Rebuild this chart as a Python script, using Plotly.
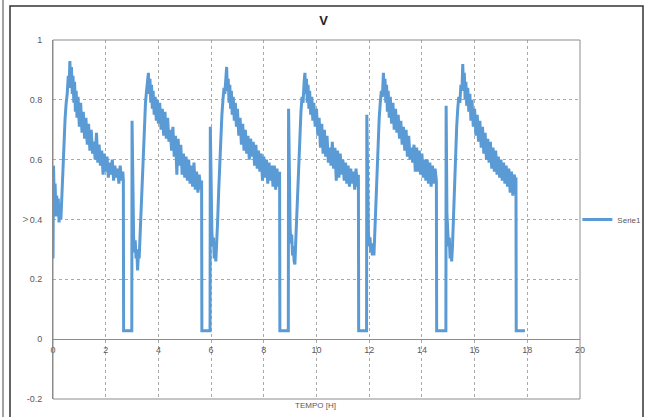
import plotly.graph_objects as go

# ---- data ----
t1 = [0.00, 0.02, 0.05, 0.08, 0.11, 0.14, 0.17, 0.20, 0.23, 0.26, 0.30, 0.34, 0.38, 0.42, 0.46, 0.50, 0.54, 0.58,
      0.61, 0.64, 0.67, 0.70, 0.73, 0.76, 0.79, 0.82, 0.85, 0.88, 0.91, 0.95,
      1.00, 1.05, 1.10, 1.15, 1.20, 1.25, 1.30, 1.35, 1.40, 1.45, 1.50, 1.55, 1.60, 1.65, 1.70, 1.75, 1.80, 1.85,
      1.90, 1.95, 2.00, 2.05, 2.10, 2.15, 2.20, 2.25, 2.30, 2.35, 2.40, 2.45, 2.50, 2.55, 2.60, 2.65,
      2.67, 2.68, 2.99]
v1 = [0.27, 0.58, 0.45, 0.52, 0.41, 0.48, 0.42, 0.47, 0.39, 0.45, 0.40, 0.50, 0.60, 0.68, 0.74, 0.79, 0.82, 0.88,
      0.84, 0.93, 0.86, 0.91, 0.82, 0.88, 0.79, 0.86, 0.76, 0.83, 0.74, 0.81,
      0.71, 0.79, 0.69, 0.76, 0.67, 0.74, 0.65, 0.72, 0.63, 0.70, 0.62, 0.66, 0.60, 0.69, 0.59, 0.65, 0.58, 0.63,
      0.55, 0.62, 0.56, 0.61, 0.54, 0.59, 0.55, 0.60, 0.53, 0.58, 0.54, 0.57, 0.52, 0.58, 0.53, 0.56,
      0.53, 0.028, 0.028]

t2 = [3.00, 3.03, 3.06, 3.09, 3.12, 3.15, 3.18, 3.21, 3.24, 3.27, 3.31, 3.35, 3.39, 3.43, 3.47, 3.51, 3.55, 3.58,
      3.62, 3.65, 3.68, 3.71, 3.74, 3.77, 3.80, 3.84, 3.88, 3.92, 3.96, 4.00,
      4.05, 4.10, 4.15, 4.20, 4.25, 4.30, 4.35, 4.40, 4.45, 4.50, 4.55, 4.60, 4.65, 4.70, 4.75, 4.80,
      4.85, 4.90, 4.95, 5.00, 5.05, 5.10, 5.15, 5.20, 5.25, 5.30, 5.35, 5.40, 5.45, 5.50, 5.55, 5.60,
      5.64, 5.65, 5.96]
v2 = [0.73, 0.41, 0.34, 0.29, 0.33, 0.27, 0.30, 0.23, 0.28, 0.27, 0.36, 0.47, 0.58, 0.67, 0.74, 0.79, 0.83, 0.86,
      0.89, 0.82, 0.87, 0.79, 0.85, 0.77, 0.83, 0.75, 0.81, 0.73, 0.80, 0.72,
      0.79, 0.70, 0.77, 0.68, 0.76, 0.67, 0.74, 0.66, 0.70, 0.63, 0.71, 0.61, 0.68, 0.55, 0.67, 0.58,
      0.65, 0.55, 0.62, 0.54, 0.61, 0.53, 0.60, 0.52, 0.58, 0.51, 0.59, 0.50, 0.56, 0.49, 0.55, 0.50,
      0.53, 0.028, 0.028]

t3 = [5.97, 6.00, 6.03, 6.06, 6.09, 6.12, 6.15, 6.18, 6.21, 6.25, 6.29, 6.33, 6.37, 6.41, 6.45, 6.49, 6.52, 6.56,
      6.59, 6.62, 6.65, 6.68, 6.71, 6.74, 6.77, 6.80, 6.84, 6.88, 6.92, 6.96, 7.00,
      7.05, 7.10, 7.15, 7.20, 7.25, 7.30, 7.35, 7.40, 7.45, 7.50, 7.55, 7.60, 7.65, 7.70, 7.75, 7.80,
      7.85, 7.90, 7.95, 8.00, 8.05, 8.10, 8.15, 8.20, 8.25, 8.30, 8.35, 8.40, 8.45, 8.50, 8.55, 8.60,
      8.61, 8.93]
v3 = [0.71, 0.40, 0.36, 0.31, 0.34, 0.27, 0.30, 0.26, 0.31, 0.40, 0.50, 0.60, 0.68, 0.75, 0.80, 0.84, 0.82, 0.88,
      0.91, 0.83, 0.87, 0.79, 0.85, 0.77, 0.83, 0.75, 0.81, 0.73, 0.79, 0.71, 0.77,
      0.68, 0.74, 0.65, 0.72, 0.63, 0.70, 0.62, 0.68, 0.60, 0.67, 0.61, 0.66, 0.58, 0.65, 0.57, 0.63,
      0.56, 0.62, 0.53, 0.61, 0.54, 0.60, 0.52, 0.59, 0.53, 0.58, 0.51, 0.58, 0.50, 0.57, 0.51, 0.56,
      0.028, 0.028]

t4 = [8.94, 8.97, 9.00, 9.03, 9.06, 9.09, 9.12, 9.15, 9.18, 9.21, 9.25, 9.29, 9.33, 9.37, 9.41, 9.45, 9.49, 9.53,
      9.56, 9.59, 9.62, 9.65, 9.68, 9.71, 9.74, 9.78, 9.82, 9.86, 9.90, 9.95, 10.00,
      10.05, 10.10, 10.15, 10.20, 10.25, 10.30, 10.35, 10.40, 10.45, 10.50, 10.55, 10.60, 10.65, 10.70, 10.75,
      10.80, 10.85, 10.90, 10.95, 11.00, 11.05, 11.10, 11.15, 11.20, 11.25, 11.30, 11.35, 11.40, 11.45, 11.50,
      11.55, 11.59, 11.60, 11.90]
v4 = [0.77, 0.42, 0.37, 0.32, 0.35, 0.28, 0.31, 0.26, 0.25, 0.32, 0.42, 0.52, 0.62, 0.70, 0.76, 0.81, 0.79, 0.86,
      0.89, 0.82, 0.87, 0.79, 0.85, 0.77, 0.83, 0.75, 0.81, 0.73, 0.79, 0.71, 0.77,
      0.68, 0.74, 0.64, 0.72, 0.62, 0.70, 0.61, 0.68, 0.59, 0.64, 0.58, 0.66, 0.57, 0.64, 0.53,
      0.63, 0.54, 0.62, 0.55, 0.60, 0.53, 0.59, 0.52, 0.58, 0.51, 0.57, 0.52, 0.56, 0.50, 0.57,
      0.51, 0.55, 0.028, 0.028]

t5 = [11.91, 11.94, 11.97, 12.00, 12.03, 12.06, 12.09, 12.12, 12.15, 12.18, 12.22, 12.26, 12.30, 12.34, 12.38,
      12.42, 12.46, 12.50, 12.54, 12.57, 12.60, 12.63, 12.66, 12.69, 12.72, 12.76, 12.80, 12.85, 12.90, 12.95, 13.00,
      13.05, 13.10, 13.15, 13.20, 13.25, 13.30, 13.35, 13.40, 13.45, 13.50, 13.55, 13.60, 13.65, 13.70, 13.75,
      13.80, 13.85, 13.90, 13.95, 14.00, 14.05, 14.10, 14.15, 14.20, 14.25, 14.30, 14.35, 14.40, 14.45, 14.50,
      14.55, 14.56, 14.91]
v5 = [0.75, 0.40, 0.36, 0.31, 0.34, 0.29, 0.32, 0.28, 0.30, 0.28, 0.38, 0.50, 0.60, 0.68, 0.74,
      0.79, 0.83, 0.81, 0.89, 0.82, 0.87, 0.79, 0.85, 0.76, 0.83, 0.74, 0.81, 0.72, 0.79, 0.70, 0.77,
      0.69, 0.75, 0.67, 0.73, 0.65, 0.71, 0.63, 0.70, 0.61, 0.68, 0.60, 0.64, 0.59, 0.65, 0.56,
      0.64, 0.56, 0.63, 0.55, 0.62, 0.54, 0.60, 0.53, 0.60, 0.52, 0.59, 0.51, 0.58, 0.52, 0.57,
      0.53, 0.028, 0.028]

t6 = [14.92, 14.95, 14.98, 15.01, 15.04, 15.07, 15.10, 15.13, 15.16, 15.20, 15.24, 15.28, 15.32, 15.36, 15.40,
      15.44, 15.48, 15.52, 15.55, 15.58, 15.61, 15.64, 15.67, 15.70, 15.74, 15.78, 15.82, 15.86, 15.90, 15.95, 16.00,
      16.05, 16.10, 16.15, 16.20, 16.25, 16.30, 16.35, 16.40, 16.45, 16.50, 16.55, 16.60, 16.65, 16.70, 16.75,
      16.80, 16.85, 16.90, 16.95, 17.00, 17.05, 17.10, 17.15, 17.20, 17.25, 17.30, 17.35, 17.40, 17.45, 17.50,
      17.55, 17.57, 17.58, 17.91]
v6 = [0.78, 0.42, 0.36, 0.31, 0.34, 0.27, 0.30, 0.26, 0.31, 0.42, 0.53, 0.63, 0.71, 0.77, 0.81,
      0.79, 0.85, 0.83, 0.92, 0.84, 0.89, 0.80, 0.86, 0.78, 0.84, 0.76, 0.82, 0.73, 0.80, 0.71, 0.77,
      0.68, 0.75, 0.66, 0.73, 0.64, 0.71, 0.62, 0.69, 0.60, 0.67, 0.59, 0.66, 0.57, 0.64, 0.56,
      0.63, 0.55, 0.61, 0.54, 0.60, 0.53, 0.59, 0.52, 0.58, 0.51, 0.57, 0.49, 0.56, 0.48, 0.55,
      0.53, 0.54, 0.028, 0.028]

x_ticks = [0, 2, 4, 6, 8, 10, 12, 14, 16, 18, 20]
x_ticktext = ["0", "2", "4", "6", "8", "10", "12", "14", "16", "18", "20"]
y_ticks = [-0.2, 0, 0.2, 0.4, 0.6, 0.8, 1.0]
y_ticktext = ["-0.2", "0", "0.2", "0.4", "0.6", "0.8", "1"]

series_name = "Serie1"
chart_title = "V"
x_title = "TEMPO [H]"
y_title = "V"

t_all = t1 + t2 + t3 + t4 + t5 + t6
v_all = v1 + v2 + v3 + v4 + v5 + v6

FONT = "Liberation Sans, Arial, sans-serif"
GRID = "#a9a9a9"
AXIS = "#8c8c8c"
DASH = "3px,3px"

fig = go.Figure()
fig.add_trace(go.Scatter(
    x=t_all, y=v_all, mode="lines", name=series_name,
    line=dict(color="#5b9bd5", width=3),
))

fig.update_layout(
    width=647, height=417,
    margin=dict(l=53, r=67, t=40, b=18, autoexpand=False),
    paper_bgcolor="white", plot_bgcolor="white",
    font=dict(family=FONT, size=9, color="#595959"),
    title=dict(text="<b>" + chart_title + "</b>", x=0.5, xref="container", xanchor="center",
               y=0.952, yref="container", yanchor="middle",
               font=dict(family=FONT, size=13, color="#222222")),
    showlegend=True,
    legend=dict(x=0.995, y=0.5, xanchor="left", yanchor="middle", itemwidth=30,
                font=dict(family=FONT, size=8, color="#595959"),
                bgcolor="rgba(0,0,0,0)"),
    xaxis=dict(range=[0, 20], tickvals=x_ticks, ticktext=x_ticktext,
               showgrid=True, gridcolor=GRID, griddash=DASH, gridwidth=1,
               anchor="free", position=(0 - (-0.2)) / 1.2, automargin=False,
               showline=True, linecolor=AXIS, linewidth=1,
               zeroline=False, ticks="", ticklabelstandoff=2,
               tickfont=dict(family=FONT, size=9, color="#595959")),
    yaxis=dict(range=[-0.2, 1.0], tickvals=y_ticks, ticktext=y_ticktext, automargin=False,
               showgrid=True, gridcolor=GRID, griddash=DASH, gridwidth=1,
               showline=True, linecolor=AXIS, linewidth=1,
               zeroline=False, ticks="", ticklabelstandoff=8,
               tickfont=dict(family=FONT, size=9, color="#595959")),
)

# plot-area frame
fig.add_shape(type="rect", xref="paper", yref="paper", x0=0, y0=0, x1=1, y1=1,
              line=dict(color=AXIS, width=1), layer="above")
# chart-area frame
fig.add_shape(type="rect", xref="paper", yref="paper",
              x0=(10 - 53) / 527, x1=(643 - 53) / 527, y0=(399 - 425) / 359, y1=(399 - 6) / 359,
              line=dict(color="#333333", width=1.5), layer="above")
fig.add_shape(type="line", xref="paper", yref="paper",
              x0=(3 - 53) / 527, x1=(3 - 53) / 527, y0=(399 - 425) / 359, y1=(399 + 5) / 359,
              line=dict(color="#444444", width=1), layer="above")

# axis titles
fig.add_annotation(text=x_title, xref="paper", yref="paper", x=0.498, y=(399 - 405) / 359,
                   xanchor="center", yanchor="middle", showarrow=False,
                   font=dict(family=FONT, size=8, color="#595959"))
fig.add_annotation(text=y_title, xref="paper", yref="paper", x=(25 - 53) / 527, y=(399 - 219) / 359,
                   xanchor="center", yanchor="middle", showarrow=False, textangle=-90,
                   font=dict(family=FONT, size=8, color="#595959"))

fig.write_html("out.html", config={"displayModeBar": False},
               post_script="document.body.style.margin='0';document.body.style.padding='0';"
                           "document.body.style.overflow='hidden';")
